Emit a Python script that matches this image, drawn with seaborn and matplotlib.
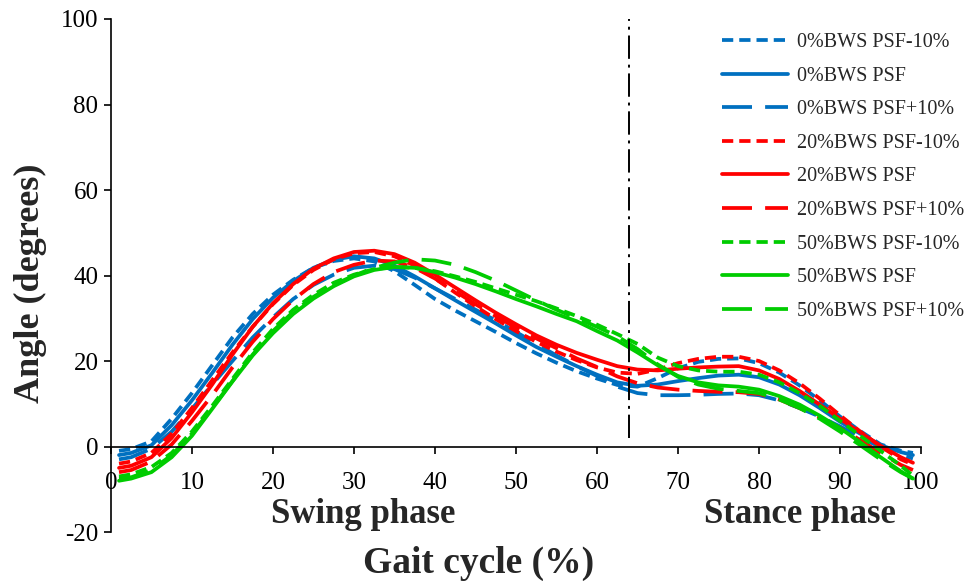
import numpy as np
import pandas as pd
import matplotlib
matplotlib.use("Agg")
import matplotlib.pyplot as plt
import seaborn as sns

# ---------------- data ----------------
gait = [1, 2.5, 5, 7.5, 10, 12.5, 15, 17.5, 20, 22.5, 25, 27.5, 30, 32.5, 35, 37.5,
        40, 42.5, 45, 47.5, 50, 52.5, 55, 57.5, 60, 62.5, 65, 67.5, 70, 72.5, 75,
        77.5, 80, 82.5, 85, 87.5, 90, 92.5, 95, 97.5, 99]

bws0_psf_m10 = [-1.0, -0.6, 1.2, 6.5, 12.5, 19.0, 25.5, 31.0, 35.5, 39.0, 41.8, 43.4,
                44.0, 43.3, 41.0, 37.8, 34.5, 31.8, 29.3, 26.8, 24.2, 21.8, 19.6, 17.6,
                15.9, 14.4, 14.0, 16.0, 18.3, 19.8, 20.5, 20.6, 19.5, 17.3, 14.3, 10.8,
                7.0, 3.6, 0.5, -1.0, -1.5]
bws0_psf = [-2.0, -1.5, 0.3, 5.0, 10.8, 17.2, 23.8, 29.8, 34.8, 38.7, 41.8, 43.7,
            44.5, 44.0, 42.3, 39.8, 37.0, 34.2, 31.5, 28.8, 26.0, 23.3, 21.0, 18.8,
            16.8, 15.0, 14.2, 14.5, 15.3, 16.0, 16.6, 16.8, 16.2, 14.5, 12.0, 9.0,
            5.8, 3.0, 0.3, -1.3, -2.0]
bws0_psf_p10 = [-3.0, -2.5, -0.5, 3.5, 8.8, 14.5, 20.0, 25.5, 30.2, 34.5, 37.8, 40.2,
                41.8, 42.3, 41.5, 39.5, 37.0, 34.5, 32.0, 29.5, 26.8, 24.0, 21.3, 18.8,
                16.5, 14.0, 12.5, 12.0, 12.0, 12.1, 12.3, 12.4, 12.0, 10.8, 9.0, 7.0,
                4.7, 2.2, -0.2, -2.0, -2.8]
bws20_psf_m10 = [-4.0, -3.5, -1.5, 3.0, 9.0, 15.5, 22.0, 28.0, 33.3, 37.8, 41.3, 43.8,
                 45.2, 45.5, 44.5, 42.3, 39.3, 36.0, 32.8, 29.8, 27.0, 24.5, 22.2, 20.2,
                 18.5, 17.3, 17.0, 18.0, 19.5, 20.5, 21.0, 21.0, 20.0, 17.8, 14.8, 11.2,
                 7.3, 3.5, 0.0, -3.0, -4.2]
bws20_psf = [-5.0, -4.5, -2.5, 2.0, 8.0, 14.5, 21.5, 28.0, 33.5, 38.0, 41.6, 44.0,
             45.5, 45.8, 45.0, 43.0, 40.2, 37.2, 34.2, 31.3, 28.6, 26.0, 23.8, 21.9,
             20.3, 18.8, 18.0, 17.8, 18.2, 18.5, 18.7, 18.8, 17.8, 15.8, 13.0, 9.8,
             6.5, 3.3, 0.2, -2.5, -3.8]
bws20_psf_p10 = [-6.0, -5.5, -3.5, 0.5, 6.0, 12.0, 18.5, 24.5, 29.8, 34.3, 38.0, 40.8,
                 42.5, 43.5, 43.3, 41.8, 39.3, 36.3, 33.3, 30.5, 27.8, 25.3, 23.0, 20.6,
                 18.6, 16.4, 14.8, 13.8, 13.3, 13.0, 12.8, 12.7, 12.3, 11.0, 9.0, 6.8,
                 4.3, 1.5, -1.5, -4.3, -5.5]
bws50_psf_m10 = [-7.0, -6.5, -4.8, -1.5, 3.5, 9.5, 15.8, 22.0, 27.5, 32.0, 35.5, 38.3,
                 40.2, 41.5, 42.0, 41.8, 41.0, 39.8, 38.5, 37.0, 35.5, 34.0, 32.3, 30.5,
                 28.5, 26.3, 24.0, 20.8, 18.8, 17.8, 17.5, 17.5, 16.8, 15.0, 12.5, 9.5,
                 6.0, 2.5, -1.0, -4.5, -6.8]
bws50_psf = [-8.0, -7.5, -6.0, -2.5, 2.5, 8.8, 15.2, 21.3, 26.5, 31.0, 34.6, 37.5,
             39.8, 41.3, 42.0, 41.8, 40.8, 39.5, 38.0, 36.3, 34.5, 32.8, 31.0, 29.3,
             27.0, 24.8, 22.0, 19.0, 16.5, 15.0, 14.3, 14.0, 13.3, 11.8, 9.8, 7.2,
             4.3, 1.0, -2.5, -5.8, -7.5]
bws50_psf_p10 = [-7.5, -7.2, -5.5, -2.0, 3.0, 9.0, 15.3, 21.5, 27.0, 31.5, 35.0, 37.8,
                 40.0, 41.8, 43.0, 43.8, 43.5, 42.5, 40.8, 38.8, 36.5, 34.2, 32.0, 30.0,
                 28.0, 25.8, 22.8, 19.2, 16.3, 14.5, 13.5, 13.0, 12.5, 11.0, 9.0, 6.5,
                 3.5, 0.3, -3.0, -6.0, -7.5]

series_labels = ["0%BWS PSF-10%", "0%BWS PSF", "0%BWS PSF+10%",
                 "20%BWS PSF-10%", "20%BWS PSF", "20%BWS PSF+10%",
                 "50%BWS PSF-10%", "50%BWS PSF", "50%BWS PSF+10%"]
series_values = [bws0_psf_m10, bws0_psf, bws0_psf_p10,
                 bws20_psf_m10, bws20_psf, bws20_psf_p10,
                 bws50_psf_m10, bws50_psf, bws50_psf_p10]

x_ticks = [0, 10, 20, 30, 40, 50, 60, 70, 80, 90, 100]
y_ticks = [-20, 0, 20, 40, 60, 80, 100]
phase_split = 64

# ---------------- styling ----------------
sns.set_style("ticks")
plt.rcParams["font.family"] = ["Liberation Serif", "DejaVu Serif"]
plt.rcParams["axes.unicode_minus"] = False

blue, red, green = "#0070C0", "#FF0000", "#00CC00"
colors = [blue] * 3 + [red] * 3 + [green] * 3
dotted = (0, (3.0, 1.6))
solid = "-"
longdash = (0, (8.0, 3.5))
styles = [dotted, solid, longdash] * 3

frames = []
for lab, vals in zip(series_labels, series_values):
    frames.append(pd.DataFrame({"gait": gait, "angle": vals, "series": lab}))
df = pd.concat(frames, ignore_index=True)

fig = plt.figure(figsize=(9.73, 5.81), dpi=100)
ax = fig.add_axes([0.114, 0.0843, 0.8326, 0.883])

for lab, col, ls in zip(series_labels, colors, styles):
    sub = df[df["series"] == lab]
    sns.lineplot(data=sub, x="gait", y="angle", ax=ax, color=col, linestyle=ls,
                 linewidth=2.7, label=lab, sort=False, estimator=None)

ax.axvline(phase_split, ymin=(2 + 20) / 120, ymax=1.0, color="black",
           linewidth=1.4, linestyle=(0, (12, 3, 1.5, 3)))

ax.set_xlim(0, 100)
ax.set_ylim(-20, 100)
ax.set_xticks(x_ticks)
ax.set_yticks(y_ticks)
ax.spines["top"].set_visible(False)
ax.spines["right"].set_visible(False)
ax.spines["bottom"].set_position(("data", 0))
for s in ("left", "bottom"):
    ax.spines[s].set_linewidth(1.2)
    ax.spines[s].set_color("black")
ax.tick_params(axis="both", direction="out", length=5, width=1.2, colors="black",
               labelsize=18)
ax.tick_params(axis="x", pad=13)
ax.tick_params(axis="y", pad=4)
ax.set_xlabel("")
ax.set_ylabel("")

ax.text(31.2, -16.0, "Swing phase", ha="center", va="center", fontsize=25,
        fontweight="bold")
ax.text(85.0, -16.0, "Stance phase", ha="center", va="center", fontsize=25,
        fontweight="bold")
fig.text(479 / 973, 1 - 563 / 581, "Gait cycle (%)", ha="center", va="center",
         fontsize=27, fontweight="bold")
fig.text(30 / 973, 1 - 283 / 581, "Angle (degrees)", ha="center", va="center",
         rotation=90, fontsize=26, fontweight="bold")

ax.legend(loc="upper left", bbox_to_anchor=(722 / 973, 1 - 33 / 581),
          bbox_transform=fig.transFigure, frameon=False, fontsize=14.5,
          borderpad=0, handlelength=3.3, handletextpad=0.4, labelspacing=0.72,
          borderaxespad=0)

fig.savefig("out.png", dpi=100)
